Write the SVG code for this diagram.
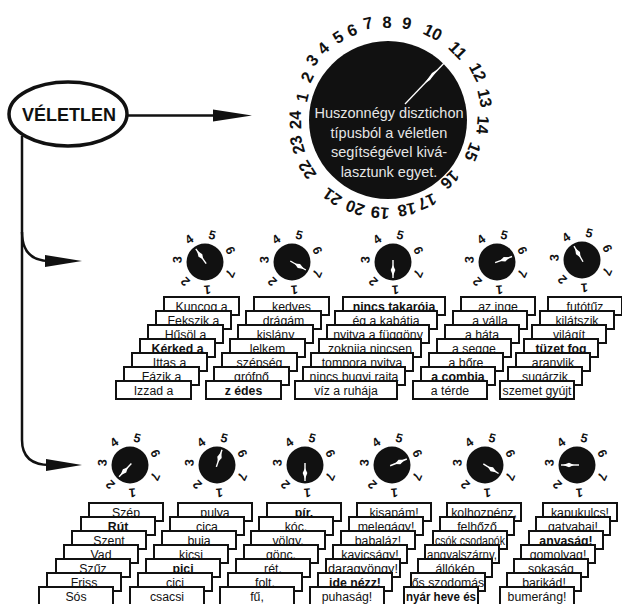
<svg xmlns="http://www.w3.org/2000/svg" xmlns:xlink="http://www.w3.org/1999/xlink" width="622" height="604" viewBox="0 0 622 604">
<style>
.card{fill:#fff;stroke:#111;stroke-width:2}
.ct{font-family:"Liberation Sans",Arial,sans-serif;font-size:12.3px;text-anchor:middle;fill:#111}
.b{font-weight:bold}
.dn{font-family:"Liberation Sans",Arial,sans-serif;font-weight:bold;font-size:12.5px;text-anchor:middle;dominant-baseline:central;fill:#111}
.bn{font-family:"Liberation Sans",Arial,sans-serif;font-weight:bold;font-size:16.5px;text-anchor:middle;dominant-baseline:central;fill:#111}
.it{font-family:"Liberation Sans",Arial,sans-serif;font-size:14.5px;text-anchor:middle;fill:#e6e6e6}
.ln{fill:none;stroke:#111;stroke-width:2.5}
.ah{fill:#111}
</style>
<defs>
<g id="dial">
<circle r="18.5" fill="#111"/>
<text class="dn" transform="translate(2.4,27.5) rotate(175)">1</text>
<text class="dn" transform="translate(-19.5,19.5) rotate(225)">2</text>
<text class="dn" transform="translate(-27.5,-2.4) rotate(275)">3</text>
<text class="dn" transform="translate(-15.8,-22.6) rotate(325)">4</text>
<text class="dn" transform="translate(7.1,-26.6) rotate(15)">5</text>
<text class="dn" transform="translate(25,-11.6) rotate(65)">6</text>
<text class="dn" transform="translate(25,11.6) rotate(115)">7</text>
</g>
<g id="needle">
<line x1="-2" y1="0" x2="16" y2="0" stroke="#fff" stroke-width="1.4"/>
<polygon points="3,0 8,-2.3 14,0 8,2.3" fill="#fff"/>
</g>
</defs>
<rect width="622" height="604" fill="#fff"/>

<g id="connectors">
<path class="ln" d="M128,115.5 L216,115.5"/>
<polygon class="ah" points="213,109.5 252,115.5 213,121.5"/>
<path class="ln" d="M22,136 L22,440 Q22,465 50,465"/>
<path class="ln" d="M22,232 Q22,261 50,261"/>
<polygon class="ah" points="45,255 82,261 45,267"/>
<polygon class="ah" points="46,459 82,465 46,471"/>
</g>

<g id="veletlen">
<ellipse cx="68" cy="114" rx="59" ry="32" fill="#fff" stroke="#111" stroke-width="3.5"/>
<text x="69" y="121" font-family="Liberation Sans, Arial, sans-serif" font-weight="bold" font-size="18" text-anchor="middle" fill="#111">VÉLETLEN</text>
</g>

<g id="big-dial">
<circle cx="388" cy="120" r="79" fill="#111"/>
<text class="bn" transform="translate(302,97) rotate(-76.4)">1</text>
<text class="bn" transform="translate(307,77) rotate(-63.4)">2</text>
<text class="bn" transform="translate(312,60) rotate(-53)">3</text>
<text class="bn" transform="translate(323,48) rotate(-43.3)">4</text>
<text class="bn" transform="translate(338,37) rotate(-32.2)">5</text>
<text class="bn" transform="translate(352,30) rotate(-22.8)">6</text>
<text class="bn" transform="translate(368,23) rotate(-12.5)">7</text>
<text class="bn" transform="translate(387,22) rotate(-1.2)">8</text>
<text class="bn" transform="translate(407,23) rotate(10.7)">9</text>
<text class="bn" transform="translate(433,32) rotate(27.1)">10</text>
<text class="bn" transform="translate(458,50) rotate(45.4)">11</text>
<text class="bn" transform="translate(478,72) rotate(62.7)">12</text>
<text class="bn" transform="translate(485,98) rotate(78.2)">13</text>
<text class="bn" transform="translate(483,125) rotate(94.3)">14</text>
<text class="bn" transform="translate(473,152) rotate(112)">15</text>
<text class="bn" transform="translate(450,180) rotate(135.5)">16</text>
<text class="bn" transform="translate(427,202) rotate(155.7)">17</text>
<text class="bn" transform="translate(407,210) rotate(168.9)">18</text>
<text class="bn" transform="translate(380,213) rotate(185.4)">19</text>
<text class="bn" transform="translate(355,208) rotate(200.7)">20</text>
<text class="bn" transform="translate(332,197) rotate(215.8)">21</text>
<text class="bn" transform="translate(307,170) rotate(237.6)">22</text>
<text class="bn" transform="translate(297,145) rotate(253.6)">23</text>
<text class="bn" transform="translate(295,120) rotate(268.8)">24</text>
<line x1="405" y1="104" x2="448" y2="59" stroke="#fff" stroke-width="1.3"/>
<polygon points="424,84 432,73 438,69 430,80" fill="#fff"/>
<text class="it" x="389" y="118">Huszonnégy disztichon</text>
<text class="it" x="389" y="138">típusból a véletlen</text>
<text class="it" x="389" y="157">segítségével kivá-</text>
<text class="it" x="389" y="177">lasztunk egyet.</text>
</g>

<g id="dial-m1" transform="translate(205,262)"><use xlink:href="#dial"/><use xlink:href="#needle" transform="rotate(235)"/></g>
<g id="dial-m2" transform="translate(292,262)"><use xlink:href="#dial"/><use xlink:href="#needle" transform="rotate(30)"/></g>
<g id="dial-m3" transform="translate(393,262)"><use xlink:href="#dial"/><use xlink:href="#needle" transform="rotate(90)"/></g>
<g id="dial-m4" transform="translate(497,262)"><use xlink:href="#dial"/><use xlink:href="#needle" transform="rotate(340)"/></g>
<g id="dial-m5" transform="translate(582,260)"><use xlink:href="#dial"/><use xlink:href="#needle" transform="rotate(240)"/></g>

<g id="dial-b1" transform="translate(130,465)"><use xlink:href="#dial"/><use xlink:href="#needle" transform="rotate(133)"/></g>
<g id="dial-b2" transform="translate(217,465)"><use xlink:href="#dial"/><use xlink:href="#needle" transform="rotate(288)"/></g>
<g id="dial-b3" transform="translate(305,465)"><use xlink:href="#dial"/><use xlink:href="#needle" transform="rotate(90)"/></g>
<g id="dial-b4" transform="translate(392,465)"><use xlink:href="#dial"/><use xlink:href="#needle" transform="rotate(338)"/></g>
<g id="dial-b5" transform="translate(485,465)"><use xlink:href="#dial"/><use xlink:href="#needle" transform="rotate(32)"/></g>
<g id="dial-b6" transform="translate(577,465)"><use xlink:href="#dial"/><use xlink:href="#needle" transform="rotate(180)"/></g>

<g id="stack-m1">
<rect class="card" x="164" y="297" width="75" height="18"/><text class="ct" x="201.5" y="310.5">Kuncog a</text>
<rect class="card" x="156" y="311" width="75" height="18"/><text class="ct" x="193.5" y="324.5">Fekszik a</text>
<rect class="card" x="148" y="325" width="75" height="18"/><text class="ct" x="185.5" y="338.5">Hűsöl a</text>
<rect class="card" x="140" y="339" width="75" height="18"/><text class="ct b" x="177.5" y="352.5">Kérked a</text>
<rect class="card" x="132" y="353" width="75" height="18"/><text class="ct" x="169.5" y="366.5">Ittas a</text>
<rect class="card" x="124" y="367" width="75" height="18"/><text class="ct" x="161.5" y="380.5">Fázik a</text>
<rect class="card" x="116" y="381" width="75" height="18"/><text class="ct" x="153.5" y="394.5">Izzad a</text>
</g>
<g id="stack-m2">
<rect class="card" x="254" y="297" width="75" height="18"/><text class="ct" x="291.5" y="310.5">kedves</text>
<rect class="card" x="246" y="311" width="75" height="18"/><text class="ct" x="283.5" y="324.5">drágám</text>
<rect class="card" x="238" y="325" width="75" height="18"/><text class="ct" x="275.5" y="338.5">kislány</text>
<rect class="card" x="230" y="339" width="75" height="18"/><text class="ct" x="267.5" y="352.5">lelkem</text>
<rect class="card" x="222" y="353" width="75" height="18"/><text class="ct" x="259.5" y="366.5">szépség</text>
<rect class="card" x="214" y="367" width="75" height="18"/><text class="ct" x="251.5" y="380.5">grófnő</text>
<rect class="card" x="206" y="381" width="75" height="18"/><text class="ct b" x="243.5" y="394.5">z édes</text>
</g>
<g id="stack-m3">
<rect class="card" x="343" y="297" width="102" height="18"/><text class="ct b" x="394" y="310.5">nincs takarója</text>
<rect class="card" x="335" y="311" width="102" height="18"/><text class="ct" x="386" y="324.5">ég a kabátja</text>
<rect class="card" x="327" y="325" width="102" height="18"/><text class="ct" x="378" y="338.5">nyitva a függöny</text>
<rect class="card" x="319" y="339" width="102" height="18"/><text class="ct" x="370" y="352.5">zoknija nincsen</text>
<rect class="card" x="311" y="353" width="102" height="18"/><text class="ct" x="362" y="366.5">tompora nyitva</text>
<rect class="card" x="303" y="367" width="102" height="18"/><text class="ct" x="354" y="380.5">nincs bugyi rajta</text>
<rect class="card" x="295" y="381" width="102" height="18"/><text class="ct" x="346" y="394.5">víz a ruhája</text>
</g>
<g id="stack-m4">
<rect class="card" x="461" y="297" width="74" height="18"/><text class="ct" x="498" y="310.5">az inge</text>
<rect class="card" x="453" y="311" width="74" height="18"/><text class="ct" x="490" y="324.5">a válla</text>
<rect class="card" x="445" y="325" width="74" height="18"/><text class="ct" x="482" y="338.5">a háta</text>
<rect class="card" x="437" y="339" width="74" height="18"/><text class="ct" x="474" y="352.5">a segge</text>
<rect class="card" x="429" y="353" width="74" height="18"/><text class="ct" x="466" y="366.5">a bőre</text>
<rect class="card" x="421" y="367" width="74" height="18"/><text class="ct b" x="458" y="380.5">a combja</text>
<rect class="card" x="413" y="381" width="74" height="18"/><text class="ct" x="450" y="394.5">a térde</text>
</g>
<g id="stack-m5">
<rect class="card" x="548" y="297" width="74" height="18"/><text class="ct" x="585" y="310.5">futótűz</text>
<rect class="card" x="540" y="311" width="74" height="18"/><text class="ct" x="577" y="324.5">kilátszik</text>
<rect class="card" x="532" y="325" width="74" height="18"/><text class="ct" x="569" y="338.5">világít</text>
<rect class="card" x="524" y="339" width="74" height="18"/><text class="ct b" x="561" y="352.5">tüzet fog</text>
<rect class="card" x="516" y="353" width="74" height="18"/><text class="ct" x="553" y="366.5">aranylik</text>
<rect class="card" x="508" y="367" width="74" height="18"/><text class="ct" x="545" y="380.5">sugárzik</text>
<rect class="card" x="500" y="381" width="74" height="18"/><text class="ct" x="537" y="394.5">szemet gyújt</text>
</g>

<g id="stack-b1">
<rect class="card" x="89" y="503" width="74" height="18"/><text class="ct" x="126" y="516.5">Szép</text>
<rect class="card" x="81" y="517" width="74" height="18"/><text class="ct b" x="118" y="530.5">Rút</text>
<rect class="card" x="72" y="531" width="74" height="18"/><text class="ct" x="109" y="544.5">Szent</text>
<rect class="card" x="64" y="545" width="74" height="18"/><text class="ct" x="101" y="558.5">Vad</text>
<rect class="card" x="56" y="559" width="74" height="18"/><text class="ct" x="93" y="572.5">Szűz</text>
<rect class="card" x="47" y="573" width="74" height="18"/><text class="ct" x="84" y="586.5">Friss</text>
<rect class="card" x="39" y="587" width="74" height="18"/><text class="ct" x="76" y="600.5">Sós</text>
</g>
<g id="stack-b2">
<rect class="card" x="178" y="503" width="74" height="18"/><text class="ct" x="215" y="516.5">pulya</text>
<rect class="card" x="170" y="517" width="74" height="18"/><text class="ct" x="207" y="530.5">cica</text>
<rect class="card" x="162" y="531" width="74" height="18"/><text class="ct" x="199" y="544.5">buja</text>
<rect class="card" x="154" y="545" width="74" height="18"/><text class="ct" x="191" y="558.5">kicsi</text>
<rect class="card" x="146" y="559" width="74" height="18"/><text class="ct b" x="183" y="572.5">pici</text>
<rect class="card" x="138" y="573" width="74" height="18"/><text class="ct" x="175" y="586.5">cici</text>
<rect class="card" x="130" y="587" width="74" height="18"/><text class="ct" x="167" y="600.5">csacsi</text>
</g>
<g id="stack-b3">
<rect class="card" x="267" y="503" width="74" height="18"/><text class="ct b" x="304" y="516.5">pír,</text>
<rect class="card" x="259" y="517" width="74" height="18"/><text class="ct" x="296" y="530.5">kóc,</text>
<rect class="card" x="251" y="531" width="74" height="18"/><text class="ct" x="288" y="544.5">völgy,</text>
<rect class="card" x="244" y="545" width="74" height="18"/><text class="ct" x="281" y="558.5">gönc,</text>
<rect class="card" x="236" y="559" width="74" height="18"/><text class="ct" x="273" y="572.5">rét,</text>
<rect class="card" x="228" y="573" width="74" height="18"/><text class="ct" x="265" y="586.5">folt,</text>
<rect class="card" x="220" y="587" width="74" height="18"/><text class="ct" x="257" y="600.5">fű,</text>
</g>
<g id="stack-b4">
<rect class="card" x="357" y="503" width="74" height="18"/><text class="ct" x="394" y="516.5">kisapám!</text>
<rect class="card" x="349" y="517" width="74" height="18"/><text class="ct" x="386" y="530.5">melegágy!</text>
<rect class="card" x="341" y="531" width="74" height="18"/><text class="ct" x="378" y="544.5">babaláz!</text>
<rect class="card" x="333" y="545" width="74" height="18"/><text class="ct" x="370" y="558.5">kavicságy!</text>
<rect class="card" x="326" y="559" width="74" height="18"/><text class="ct" x="363" y="572.5" textLength="70" lengthAdjust="spacingAndGlyphs">daragyöngy!</text>
<rect class="card" x="318" y="573" width="74" height="18"/><text class="ct b" x="355" y="586.5">ide nézz!</text>
<rect class="card" x="310" y="587" width="74" height="18"/><text class="ct" x="347" y="600.5">puhaság!</text>
</g>
<g id="stack-b5">
<rect class="card" x="447" y="503" width="74" height="18"/><text class="ct" x="484" y="516.5">kolhozpénz,</text>
<rect class="card" x="440" y="517" width="74" height="18"/><text class="ct" x="477" y="530.5">felhőző</text>
<rect class="card" x="433" y="531" width="74" height="18"/><text class="ct" x="470" y="544.5" textLength="70" lengthAdjust="spacingAndGlyphs">csók csodapók</text>
<rect class="card" x="425" y="545" width="74" height="18"/><text class="ct" x="462" y="558.5" textLength="70" lengthAdjust="spacingAndGlyphs">angyalszárny,</text>
<rect class="card" x="418" y="559" width="74" height="18"/><text class="ct" x="455" y="572.5">állókép</text>
<rect class="card" x="411" y="573" width="74" height="18"/><text class="ct" x="448" y="586.5">ős szodomás</text>
<rect class="card" x="404" y="587" width="74" height="18"/><text class="ct b" x="441" y="600.5" textLength="70" lengthAdjust="spacingAndGlyphs">nyár heve és</text>
</g>
<g id="stack-b6">
<rect class="card" x="543" y="503" width="74" height="18"/><text class="ct" x="580" y="516.5">kapukulcs!</text>
<rect class="card" x="536" y="517" width="74" height="18"/><text class="ct" x="573" y="530.5">gatyabaj!</text>
<rect class="card" x="529" y="531" width="74" height="18"/><text class="ct b" x="566" y="544.5">anyaság!</text>
<rect class="card" x="521" y="545" width="74" height="18"/><text class="ct" x="558" y="558.5">gomolyag!</text>
<rect class="card" x="514" y="559" width="74" height="18"/><text class="ct" x="551" y="572.5">sokaság</text>
<rect class="card" x="507" y="573" width="74" height="18"/><text class="ct" x="544" y="586.5">barikád!</text>
<rect class="card" x="500" y="587" width="74" height="18"/><text class="ct" x="537" y="600.5">bumeráng!</text>
</g>
</svg>
